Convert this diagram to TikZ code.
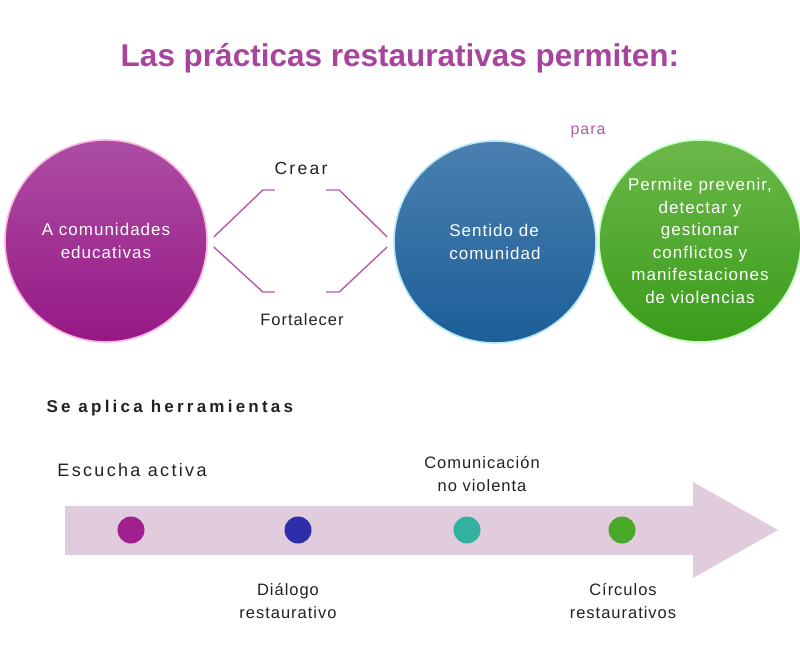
\documentclass[tikz,border=0pt]{standalone}
\usepackage{fontspec}
\setmainfont{Liberation Sans}
\newfontfamily\abierta[LetterSpace=6]{Liberation Sans}
\newfontfamily\amplia[LetterSpace=13]{Liberation Sans}
\newfontfamily\ampliab[LetterSpace=19]{Liberation Sans}
\usetikzlibrary{positioning}
\definecolor{morado}{HTML}{A8449E}
\definecolor{lila}{HTML}{B25AAB}
\definecolor{rosa}{HTML}{E0CCDD}
\definecolor{tinta}{HTML}{222222}
\begin{document}
\begin{tikzpicture}[x=1pt, y=-1pt,
  bola/.style={circle, minimum size=202pt, inner sep=0pt, line width=1.6pt, text=white, align=center,
    font=\abierta\fontsize{17}{22.5}\selectfont},
  punto/.style={circle, minimum size=27pt, inner sep=0pt},
  rama/.style={draw=lila, line width=1.4pt},
  rotulo/.style={text=tinta, align=center, font=\abierta\fontsize{16.5}{22.5}\selectfont}]
\useasboundingbox (0,0) rectangle (800,650);
\node[font=\bfseries\fontsize{31.5}{36}\selectfont, text=morado] (titulo) at (400,58) {Las prácticas restaurativas permiten:};
% circulos
\node[bola, draw=magenta!30, top color=morado!95, bottom color={rgb,255:red,150;green,24;blue,134}] (comunidades) at (106,241) {A comunidades\\educativas\hspace*{0pt}};
\node[bola, align=left, draw=cyan!30, top color={rgb,255:red,74;green,128;blue,176}, bottom color={rgb,255:red,28;green,94;blue,152}] (sentido) at (495,242) {Sentido de\\comunidad};
\node[bola, draw=green!25, top color={rgb,255:red,108;green,184;blue,74}, bottom color={rgb,255:red,58;green,156;blue,26}] (prevenir) at (700,241) {Permite prevenir,\\detectar y\\gestionar\\conflictos y\\manifestaciones\\de violencias};
\node[rotulo, font=\amplia\fontsize{17.5}{22.5}\selectfont] (crear) at (301,168) {Crear};
\node[rotulo] (fortalecer) at (302,320) {Fortalecer};
\node[font=\abierta\fontsize{16}{20}\selectfont, text=lila] (para) at (588,132) {para};
% llaves
\draw[rama] ([xshift=6pt,yshift=4pt]comunidades.east) -- ++(49,-47) -- ++(12,0);
\draw[rama] ([xshift=6pt,yshift=-6pt]comunidades.east) -- ++(49,45) -- ++(12,0);
\draw[rama] ([xshift=-6pt,yshift=5pt]sentido.west) -- ++(-48,-47) -- ++(-13,0);
\draw[rama] ([xshift=-6pt,yshift=-5pt]sentido.west) -- ++(-48,45) -- ++(-13,0);
% herramientas
\node[font=\bfseries\ampliab\fontsize{17}{20}\selectfont, text=tinta, anchor=west] (herramientas) at (43,408) {Se aplica herramientas};
\fill[rosa] (65,506) -- (693,506) -- (693,482) -- (778,530) -- (693,578) -- (693,555) -- (65,555) -- cycle;
\node[punto, fill={rgb,255:red,160;green,32;blue,143}] (p1) at (131,530) {};
\node[punto, fill={rgb,255:red,46;green,46;blue,168}] (p2) at (298,530) {};
\node[punto, fill={rgb,255:red,50;green,176;blue,160}] (p3) at (467,530) {};
\node[punto, fill={rgb,255:red,74;green,168;blue,42}] (p4) at (622,530) {};
\node[rotulo, font=\amplia\fontsize{18}{22.5}\selectfont] (escucha) at (132,470) {Escucha activa};
\node[rotulo] (dialogo) at (288,601) {Diálogo\\restaurativo};
\node[rotulo] (noviolenta) at (482,474) {Comunicación\\no violenta};
\node[rotulo] (circulos) at (623,601) {Círculos\\restaurativos};
\end{tikzpicture}
\end{document}
